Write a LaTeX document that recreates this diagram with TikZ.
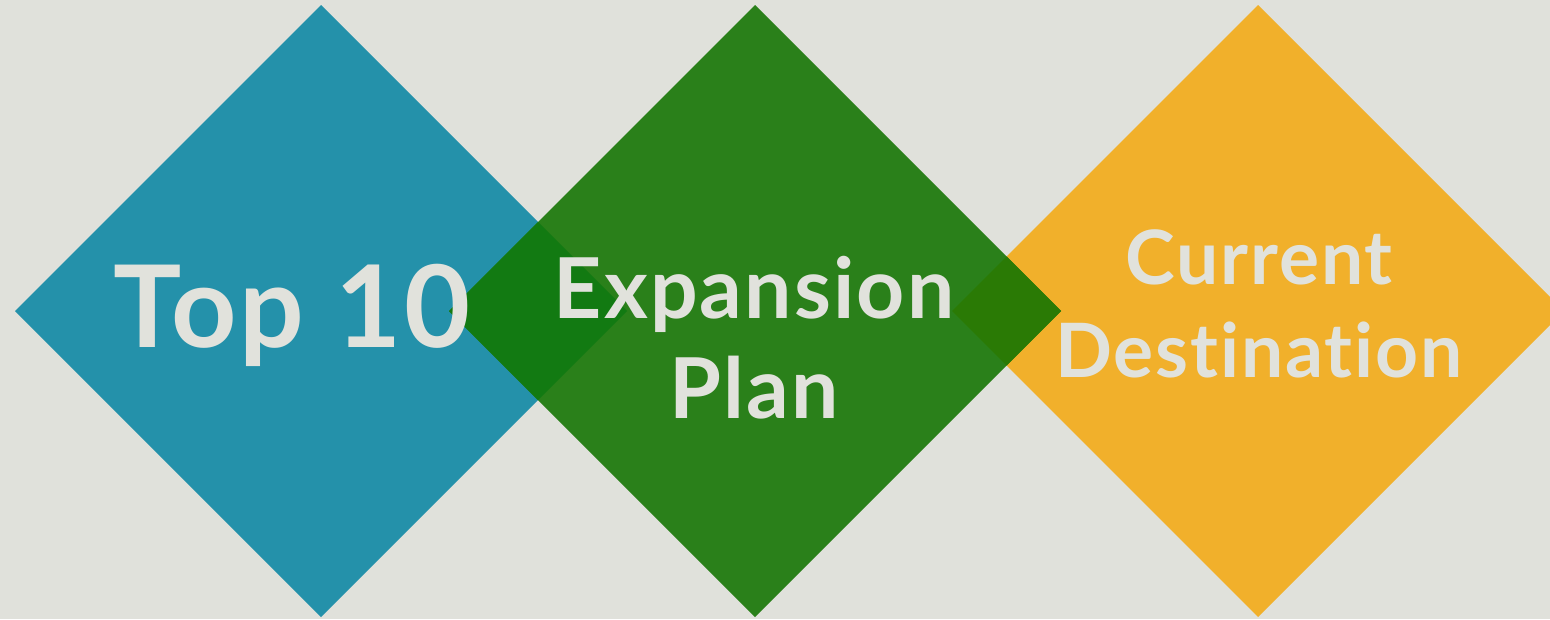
\documentclass[tikz,border=0pt]{standalone}
\usepackage{fontspec}
\newfontfamily\labelfont{Lato}[LetterSpace=2.5,Ligatures=NoCommon]
\usetikzlibrary{shapes.geometric}

\definecolor{bgcol}{HTML}{E0E1DB}
\definecolor{topblue}{HTML}{2491AA}
\definecolor{plangreen}{HTML}{2A801A}
\definecolor{destorange}{HTML}{F1B02B}
\definecolor{bluegreen}{HTML}{127A12}
\definecolor{greenorange}{HTML}{2A7A05}
\definecolor{textcol}{HTML}{E1E2DC}

\tikzset{
  tile/.style={diamond,aspect=1,minimum width=612pt,minimum height=612pt,
    inner sep=0pt,outer sep=0pt},
  word/.style={anchor=base,inner sep=0pt,text=textcol,font=\labelfont\bfseries}
}

\begin{document}
\begin{tikzpicture}[x=1pt,y=-1pt]

  \fill[bgcol] (0,0) rectangle (1550,619);
  \useasboundingbox (0,0) rectangle (1550,619);

  \begin{scope}[every node/.style={tile}]
    \node[fill=topblue]    (top)  at (321,311)  {};
    \node[fill=destorange] (dest) at (1258,311) {};
    \node[fill=plangreen]  (plan) at (755,311)  {};
  \end{scope}

  % overlaps
  \begin{scope}
    \clip (top.north) -- (top.east) -- (top.south) -- (top.west) -- cycle;
    \fill[bluegreen] (plan.north) -- (plan.east) -- (plan.south) -- (plan.west) -- cycle;
  \end{scope}
  \begin{scope}
    \clip (dest.north) -- (dest.east) -- (dest.south) -- (dest.west) -- cycle;
    \fill[greenorange] (plan.north) -- (plan.east) -- (plan.south) -- (plan.west) -- cycle;
  \end{scope}

  \begin{scope}[every node/.style={word}]
    \node[font=\labelfont\bfseries\fontsize{114}{114}\selectfont] (top1) at (292,347) {Top 10};
    \node[font=\labelfont\bfseries\fontsize{84}{84}\selectfont] (plan1) at (754,318) {Expansion};
    \node[font=\labelfont\bfseries\fontsize{84}{84}\selectfont] (plan2) at ([yshift=-100pt]plan1.base) {Plan};
    \node[font=\labelfont\bfseries\fontsize{75}{75}\selectfont] (dest1) at (1259,284) {Current};
    \node[font=\labelfont\bfseries\fontsize{75}{75}\selectfont] (dest2) at ([yshift=-93pt]dest1.base) {Destination};
  \end{scope}

\end{tikzpicture}
\end{document}
